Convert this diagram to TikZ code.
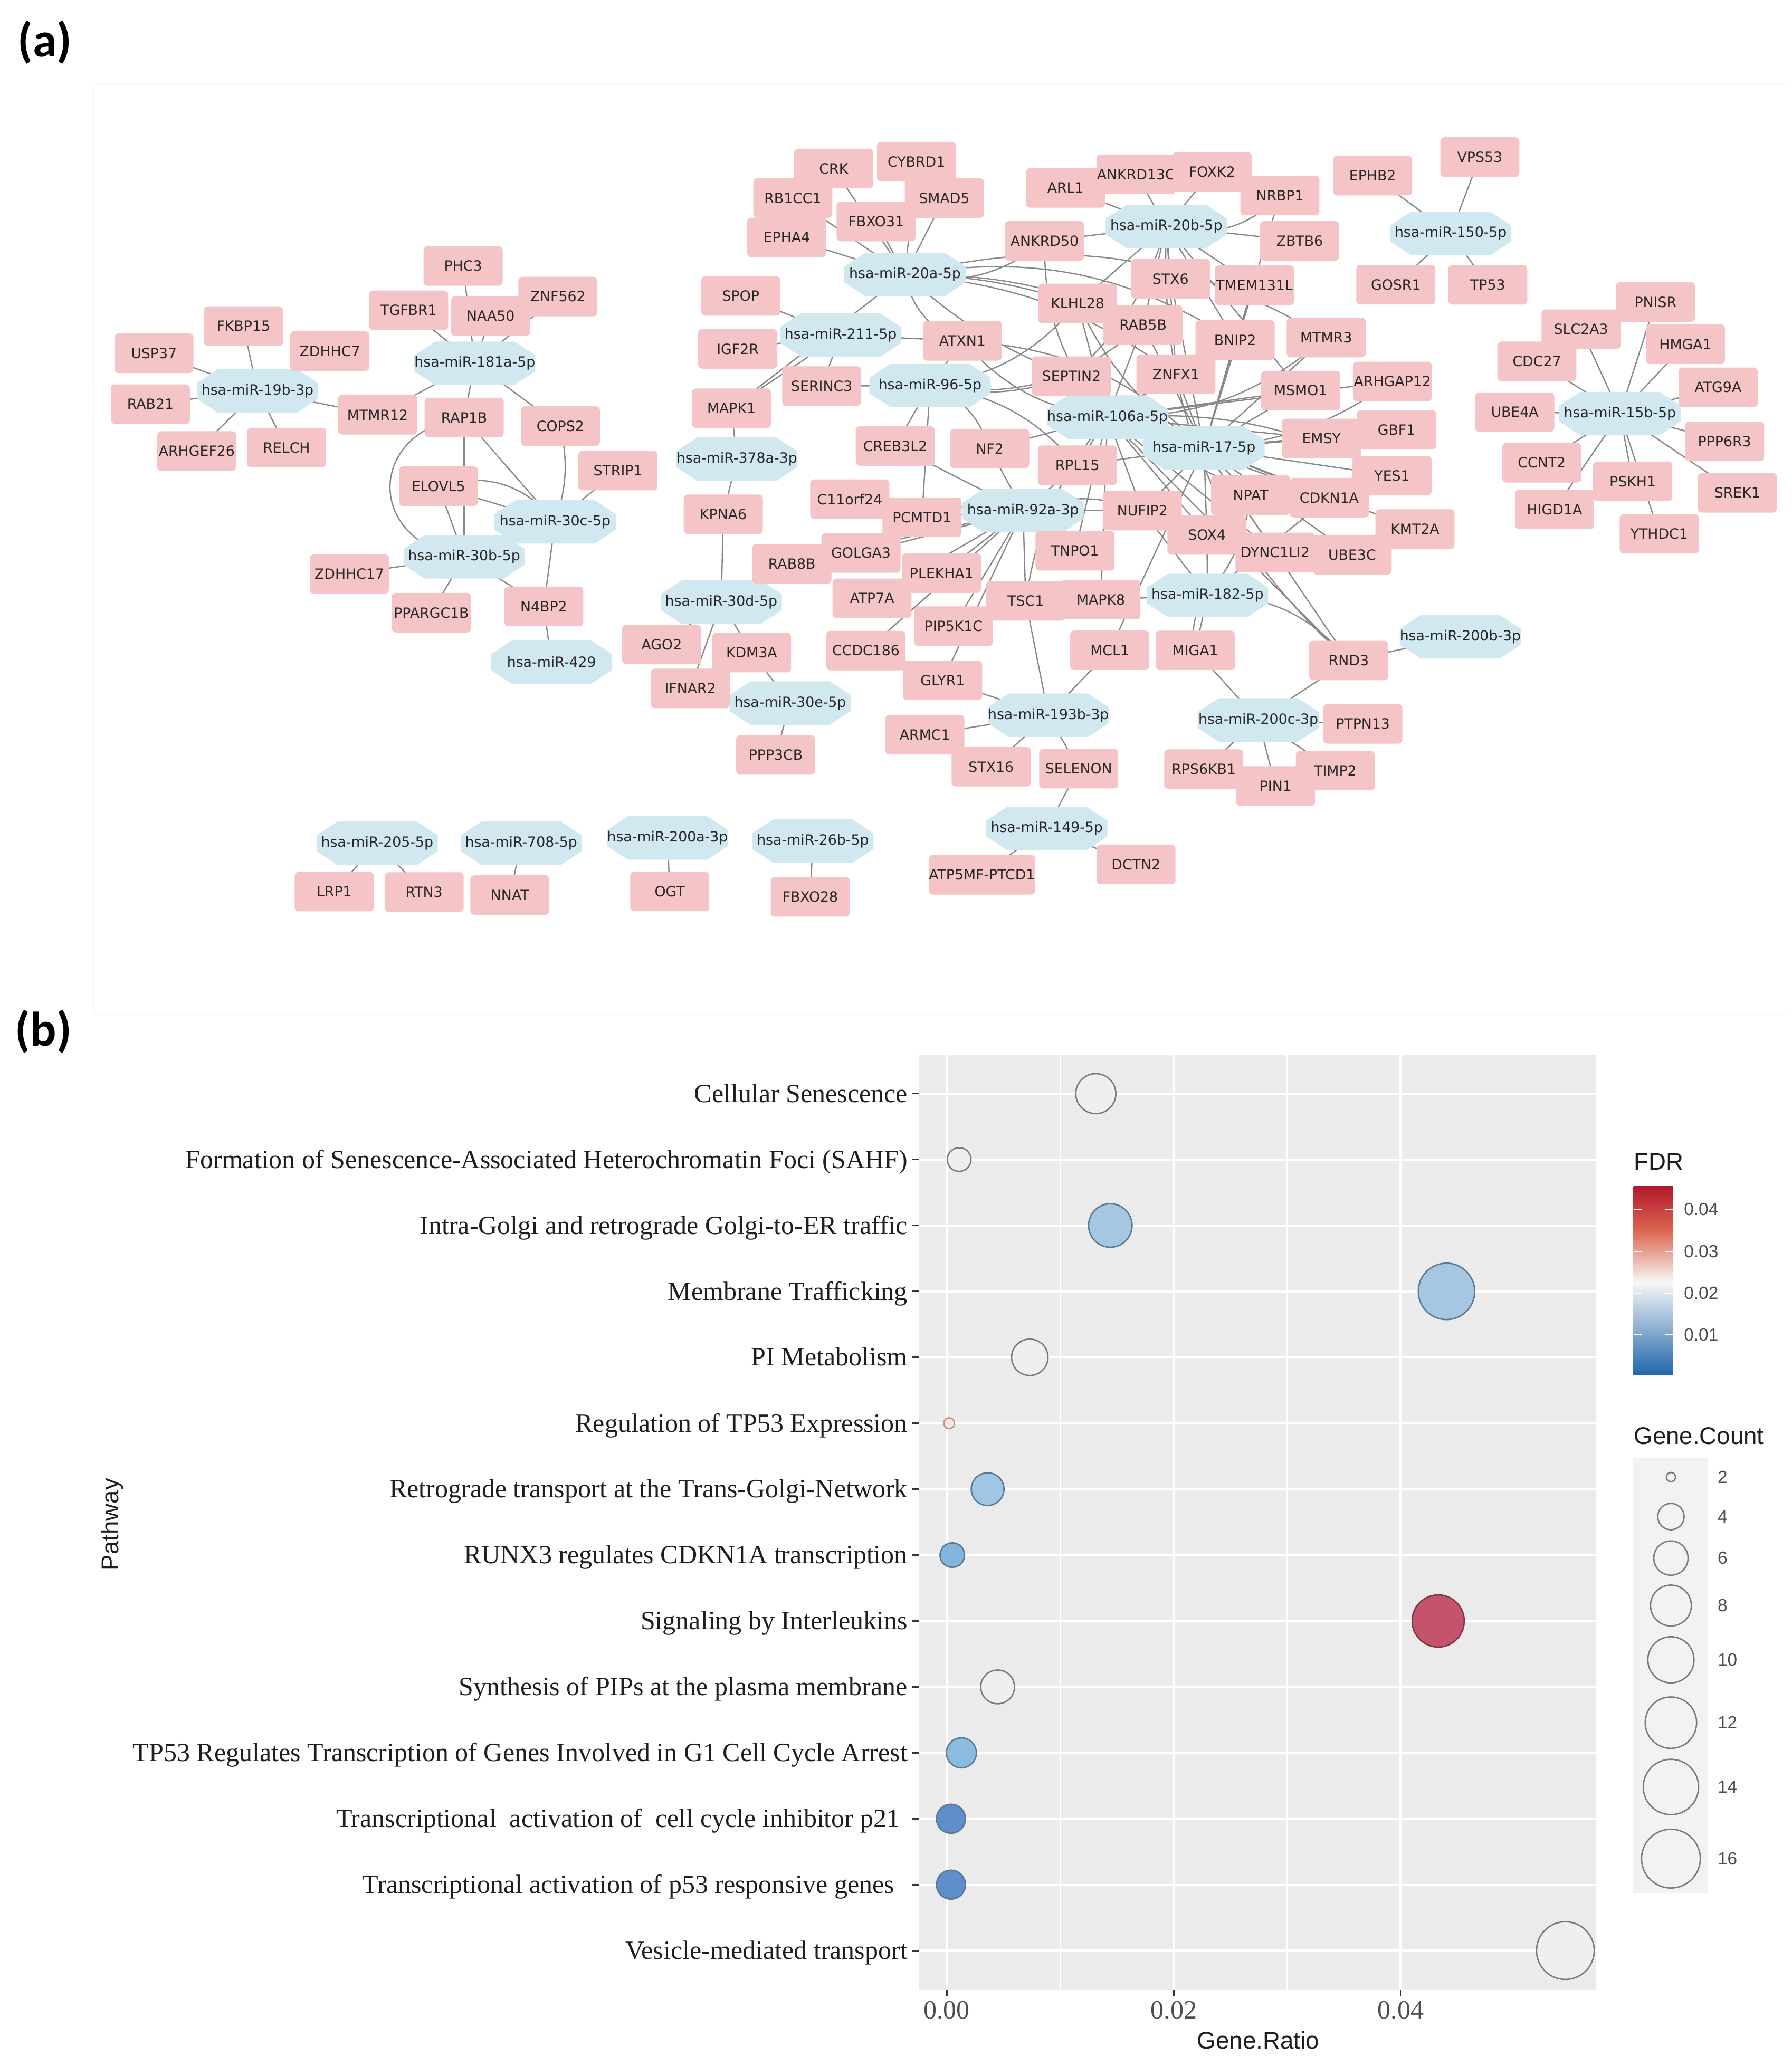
\documentclass[tikz,border=0pt]{standalone}
\usepackage{fontspec}
\setmainfont{Liberation Serif}
\newfontfamily\netfont{DejaVu Sans}
\newfontfamily\arialfont{Liberation Sans}
\newfontfamily\labfont{Carlito}
\pgfdeclarelayer{edges}
\pgfdeclarelayer{oct}
\pgfsetlayers{edges,oct,main}
\definecolor{genepink}{HTML}{F4C4C6}
\definecolor{mirblue}{HTML}{D2E8F0}
\definecolor{edgegray}{HTML}{888888}
\definecolor{txtdark}{HTML}{262626}
\definecolor{panelgray}{HTML}{EBEBEB}
\definecolor{pathtxt}{HTML}{1E1E1E}
\definecolor{ticktxt}{HTML}{4D4D4D}
\definecolor{tickgray}{HTML}{333333}
\definecolor{cwhite}{HTML}{EEEFF0}
\definecolor{clblue}{HTML}{A6C7E1}
\definecolor{clblue2}{HTML}{9FC6E4}
\definecolor{cmblue}{HTML}{82B5DD}
\definecolor{cmblue2}{HTML}{8CBBE0}
\definecolor{cdblue}{HTML}{5F8FCB}
\definecolor{cred}{HTML}{C4536B}
\definecolor{cpeach}{HTML}{F5E9E3}
\definecolor{ogray}{HTML}{7A7A7A}
\definecolor{oblue}{HTML}{5B7893}
\definecolor{ored}{HTML}{7C3A48}
\definecolor{oorange}{HTML}{C99077}
\definecolor{fdrred}{HTML}{B2182B}
\definecolor{fdrorange}{HTML}{DD6A55}
\definecolor{fdrpeach}{HTML}{F4B89D}
\definecolor{fdrwhite}{HTML}{F7F7F7}
\definecolor{fdrmidb}{HTML}{8EBFDD}
\definecolor{fdrblue}{HTML}{2166AC}
\definecolor{keygray}{HTML}{F2F2F2}
\newcommand\mirnode[3]{%
  \node[mirbox] (#1) at (#2) {#3};%
  \begin{pgfonlayer}{oct}%
  \fill[mirblue] ([shift={(-0.92cm,0.12cm)}]#1.center) -- ([shift={(-0.60cm,0.33cm)}]#1.center)
    -- ([shift={(0.60cm,0.33cm)}]#1.center) -- ([shift={(0.92cm,0.12cm)}]#1.center)
    -- ([shift={(0.92cm,-0.12cm)}]#1.center) -- ([shift={(0.60cm,-0.33cm)}]#1.center)
    -- ([shift={(-0.60cm,-0.33cm)}]#1.center) -- ([shift={(-0.92cm,-0.12cm)}]#1.center) -- cycle;%
  \end{pgfonlayer}}
\tikzset{
  genebox/.style={rectangle, rounded corners=0.06cm, fill=genepink, minimum width=1.2cm,
    minimum height=0.6cm, inner sep=0pt, font=\netfont\fontsize{6.1}{7}\selectfont, text=txtdark},
  mirbox/.style={rectangle, minimum width=1.84cm, minimum height=0.66cm, inner sep=0pt,
    font=\netfont\fontsize{6.1}{7}\selectfont, text=txtdark},
  netedge/.style={draw=edgegray, line width=0.55pt},
  pathlab/.style={font=\fontsize{11.4}{13}\selectfont, text=pathtxt, inner sep=0pt, anchor=base east},
  ticklab/.style={font=\fontsize{11.4}{13}\selectfont, text=ticktxt, inner sep=0pt, anchor=base},
  axtitle/.style={font=\arialfont\fontsize{10.4}{12}\selectfont, text=pathtxt, inner sep=0pt},
  legnum/.style={font=\arialfont\fontsize{7.6}{9}\selectfont, text=ticktxt, inner sep=0pt, anchor=west},
  panlab/.style={font=\labfont\bfseries\fontsize{21}{25}\selectfont, inner sep=0pt},
  bubble/.style={line width=0.6pt}
}
\begin{document}
\begin{tikzpicture}[x=0.02cm, y=-0.02cm]
\useasboundingbox (0,0) rectangle (1359.4,1568);
\begin{pgfonlayer}{edges}
\fill[white] (0,0) rectangle (1359.4,1568);
\draw[black!3, line width=0.4pt] (71,64) rectangle (1356,770);
\end{pgfonlayer}

\node[panlab] (laba) at (34,32) {(a)};
\node[panlab] (labb) at (33,783) {(b)};

% ---------------- left cluster
\node[genebox] (phc3) at (351.4,201.9) {PHC3};
\node[genebox] (tgfbr1) at (310.1,235.5) {TGFBR1};
\node[genebox] (znf562) at (423.3,225.1) {ZNF562};
\node[genebox] (naa50) at (372.3,239.9) {NAA50};
\node[genebox] (fkbp15) at (184.7,247.5) {FKBP15};
\node[genebox] (usp37) at (116.8,268.1) {USP37};
\node[genebox] (zdhhc7) at (250.3,266.4) {ZDHHC7};
\node[genebox] (rab21) at (114.1,306.7) {RAB21};
\node[genebox] (mtmr12) at (286.5,314.8) {MTMR12};
\node[genebox] (rap1b) at (352.2,316.9) {RAP1B};
\node[genebox] (cops2) at (425.2,323.4) {COPS2};
\node[genebox] (arhgef26) at (149.3,342.3) {ARHGEF26};
\node[genebox] (relch) at (217.4,339.7) {RELCH};
\node[genebox] (strip1) at (468.9,357.1) {STRIP1};
\node[genebox] (elovl5) at (332.7,369.0) {ELOVL5};
\node[genebox] (zdhhc17) at (265.1,435.7) {ZDHHC17};
\node[genebox] (ppargc1b) at (327.3,465.0) {PPARGC1B};
\node[genebox] (n4bp2) at (412.6,460.2) {N4BP2};
\mirnode{m181a}{360.3,275.7}{hsa-miR-181a-5p}
\mirnode{m19b}{195.4,296.7}{hsa-miR-19b-3p}
\mirnode{m30c}{421.2,396.1}{hsa-miR-30c-5p}
\mirnode{m30b}{352.2,422.6}{hsa-miR-30b-5p}
\mirnode{m429}{418.5,502.5}{hsa-miR-429}

% ---------------- middle cluster
\node[genebox] (crk) at (632.6,127.9) {CRK};
\node[genebox] (cybrd1) at (695.4,122.7) {CYBRD1};
\node[genebox] (rb1cc1) at (601.6,150.3) {RB1CC1};
\node[genebox] (smad5) at (716.5,150.3) {SMAD5};
\node[genebox] (fbxo31) at (664.8,168.1) {FBXO31};
\node[genebox] (epha4) at (597.0,180.2) {EPHA4};
\node[genebox] (spop) at (562.1,224.6) {SPOP};
\node[genebox] (igf2r) at (559.8,264.8) {IGF2R};
\node[genebox] (atxn1) at (730.3,258.7) {ATXN1};
\node[genebox] (serinc3) at (623.5,293.0) {SERINC3};
\node[genebox] (mapk1) at (555.0,309.8) {MAPK1};
\node[genebox] (creb3l2) at (679.3,338.5) {CREB3L2};
\node[genebox] (nf2) at (751.0,340.5) {NF2};
\node[genebox] (c11orf24) at (644.8,378.8) {C11orf24};
\node[genebox] (pcmtd1) at (699.6,392.5) {PCMTD1};
\node[genebox] (kpna6) at (548.8,390.3) {KPNA6};
\node[genebox] (golga3) at (653.3,419.7) {GOLGA3};
\node[genebox] (rab8b) at (600.9,427.9) {RAB8B};
\node[genebox] (plekha1) at (714.5,435.0) {PLEKHA1};
\node[genebox] (atp7a) at (661.7,454.1) {ATP7A};
\node[genebox] (tnpo1) at (815.7,418.0) {TNPO1};
\node[genebox] (tsc1) at (778.3,456.0) {TSC1};
\node[genebox] (mapk8) at (835.3,455.0) {MAPK8};
\node[genebox] (pip5k1c) at (723.5,475.2) {PIP5K1C};
\node[genebox] (ago2) at (502.1,489.2) {AGO2};
\node[genebox] (kdm3a) at (570.3,495.3) {KDM3A};
\node[genebox] (ccdc186) at (657.1,493.8) {CCDC186};
\node[genebox] (mcl1) at (842.1,493.5) {MCL1};
\node[genebox] (glyr1) at (715.3,516.4) {GLYR1};
\node[genebox] (ifnar2) at (523.8,522.5) {IFNAR2};
\node[genebox] (armc1) at (701.8,557.6) {ARMC1};
\node[genebox] (ppp3cb) at (588.6,572.9) {PPP3CB};
\node[genebox] (stx16) at (752.1,581.9) {STX16};
\node[genebox] (selenon) at (818.5,583.4) {SELENON};
\node[genebox] (atp5mf) at (745.1,663.9) {ATP5MF-PTCD1};
\node[genebox] (dctn2) at (862.0,656.0) {DCTN2};
\mirnode{m20a}{686.7,208.3}{hsa-miR-20a-5p}
\mirnode{m211}{637.9,254.3}{hsa-miR-211-5p}
\mirnode{m96}{705.7,292.6}{hsa-miR-96-5p}
\mirnode{m378a}{559.1,348.5}{hsa-miR-378a-3p}
\mirnode{m92a}{776.3,387.6}{hsa-miR-92a-3p}
\mirnode{m30d}{547.3,457.0}{hsa-miR-30d-5p}
\mirnode{m30e}{599.6,533.6}{hsa-miR-30e-5p}
\mirnode{m193b}{795.5,542.8}{hsa-miR-193b-3p}
\mirnode{m149}{794.3,628.8}{hsa-miR-149-5p}

% ---------------- top centre cluster
\node[genebox] (arl1) at (808.5,142.6) {ARL1};
\node[genebox] (ankrd13c) at (862.0,132.3) {ANKRD13C};
\node[genebox] (foxk2) at (919.7,130.4) {FOXK2};
\node[genebox] (nrbp1) at (971.2,148.4) {NRBP1};
\node[genebox] (ankrd50) at (792.6,182.8) {ANKRD50};
\node[genebox] (zbtb6) at (986.2,182.8) {ZBTB6};
\node[genebox] (stx6) at (888.2,211.6) {STX6};
\node[genebox] (tmem131l) at (951.8,216.5) {TMEM131L};
\node[genebox] (klhl28) at (817.7,230.3) {KLHL28};
\node[genebox] (rab5b) at (867.3,246.6) {RAB5B};
\node[genebox] (bnip2) at (937.2,258.1) {BNIP2};
\node[genebox] (mtmr3) at (1006.3,256.2) {MTMR3};
\node[genebox] (septin2) at (813.0,285.5) {SEPTIN2};
\node[genebox] (znfx1) at (892.3,284.0) {ZNFX1};
\node[genebox] (msmo1) at (986.9,296.4) {MSMO1};
\node[genebox] (arhgap12) at (1056.6,289.5) {ARHGAP12};
\node[genebox] (rpl15) at (817.5,353.1) {RPL15};
\node[genebox] (emsy) at (1002.7,332.8) {EMSY};
\node[genebox] (gbf1) at (1059.7,326.2) {GBF1};
\node[genebox] (yes1) at (1056.3,361.0) {YES1};
\node[genebox] (npat) at (949.0,375.8) {NPAT};
\node[genebox] (cdkn1a) at (1008.6,377.7) {CDKN1A};
\node[genebox] (nufip2) at (866.8,387.6) {NUFIP2};
\node[genebox] (sox4) at (915.8,406.0) {SOX4};
\node[genebox] (kmt2a) at (1073.7,401.5) {KMT2A};
\node[genebox] (dync1li2) at (967.5,419.3) {DYNC1LI2};
\node[genebox] (ube3c) at (1026.0,421.0) {UBE3C};
\node[genebox] (miga1) at (907.0,493.6) {MIGA1};
\node[genebox] (rnd3) at (1023.4,501.3) {RND3};
\node[genebox] (ptpn13) at (1034.1,549.4) {PTPN13};
\node[genebox] (rps6kb1) at (913.4,583.7) {RPS6KB1};
\node[genebox] (timp2) at (1013.2,584.9) {TIMP2};
\node[genebox] (pin1) at (967.9,596.5) {PIN1};
\mirnode{m20b}{885.0,171.9}{hsa-miR-20b-5p}
\mirnode{m106a}{840.3,316.6}{hsa-miR-106a-5p}
\mirnode{m17}{913.6,340.0}{hsa-miR-17-5p}
\mirnode{m182}{916.3,451.9}{hsa-miR-182-5p}
\mirnode{m200b}{1108.1,483.3}{hsa-miR-200b-3p}
\mirnode{m200c}{954.8,546.4}{hsa-miR-200c-3p}

% ---------------- right clusters
\node[genebox] (ephb2) at (1041.5,133.3) {EPHB2};
\node[genebox] (vps53) at (1122.9,119.2) {VPS53};
\node[genebox] (gosr1) at (1059.2,216.1) {GOSR1};
\node[genebox] (tp53) at (1128.9,216.2) {TP53};
\node[genebox] (pnisr) at (1256.2,229.2) {PNISR};
\node[genebox] (slc2a3) at (1199.7,249.9) {SLC2A3};
\node[genebox] (hmga1) at (1278.9,261.2) {HMGA1};
\node[genebox] (cdc27) at (1166.2,274.2) {CDC27};
\node[genebox] (atg9a) at (1303.7,293.9) {ATG9A};
\node[genebox] (ube4a) at (1149.4,312.8) {UBE4A};
\node[genebox] (ppp6r3) at (1308.6,335.0) {PPP6R3};
\node[genebox] (ccnt2) at (1169.9,351.2) {CCNT2};
\node[genebox] (pskh1) at (1238.9,365.3) {PSKH1};
\node[genebox] (srek1) at (1318.3,374.0) {SREK1};
\node[genebox] (higd1a) at (1179.6,386.6) {HIGD1A};
\node[genebox] (ythdc1) at (1259.0,405.1) {YTHDC1};
\mirnode{m150}{1100.8,177.2}{hsa-miR-150-5p}
\mirnode{m15b}{1229.2,313.9}{hsa-miR-15b-5p}

% ---------------- bottom row
\node[genebox] (lrp1) at (253.6,676.7) {LRP1};
\node[genebox] (rtn3) at (321.8,677.0) {RTN3};
\node[genebox] (nnat) at (386.9,679.3) {NNAT};
\node[genebox] (ogt) at (508.2,676.6) {OGT};
\node[genebox] (fbxo28) at (614.8,680.7) {FBXO28};
\mirnode{m205}{286.2,640.0}{hsa-miR-205-5p}
\mirnode{m708}{395.5,640.0}{hsa-miR-708-5p}
\mirnode{m200a}{506.5,636.0}{hsa-miR-200a-3p}
\mirnode{m26b}{616.8,638.4}{hsa-miR-26b-5p}

% ---------------- edges
\begin{pgfonlayer}{edges}
\foreach \a/\b in {m19b/usp37, m19b/fkbp15, m19b/rab21, m19b/arhgef26, m19b/relch, m19b/mtmr12, m19b/zdhhc7,
  m181a/phc3, m181a/tgfbr1, m181a/naa50, m181a/znf562, m181a/mtmr12, m181a/rap1b, m181a/cops2,
  m30c/elovl5, m30c/rap1b, m30c/strip1, m30c/n4bp2,
  m30b/rap1b, m30b/elovl5, m30b/zdhhc17, m30b/ppargc1b, m30b/n4bp2, m429/n4bp2,
  m20a/crk, m20a/rb1cc1, m20a/cybrd1, m20a/smad5, m20a/fbxo31, m20a/epha4, m20a/mapk1,
  m211/spop, m211/igf2r, m211/serinc3, m211/atxn1, m211/mapk1,
  m96/atxn1, m96/serinc3, m96/creb3l2, m96/pcmtd1,
  m378a/mapk1, m378a/kpna6,
  m92a/creb3l2, m92a/c11orf24, m92a/pcmtd1, m92a/nf2, m92a/rpl15, m92a/nufip2, m92a/golga3, m92a/rab8b,
  m92a/plekha1, m92a/atp7a, m92a/ccdc186, m92a/pip5k1c, m92a/glyr1, m92a/tsc1, m92a/tnpo1,
  m30d/kpna6, m30d/ago2, m30d/kdm3a, m30d/ifnar2, m30e/kdm3a, m30e/ppp3cb,
  m193b/glyr1, m193b/tsc1, m193b/mcl1, m193b/armc1, m193b/stx16, m193b/selenon,
  m149/selenon, m149/atp5mf, m149/dctn2,
  m20b/arl1, m20b/ankrd13c, m20b/foxk2, m20b/ankrd50, m20b/zbtb6, m20b/stx6, m20b/tmem131l,
  m20b/klhl28, m20b/rab5b, m20b/znfx1, m20b/bnip2, m20b/msmo1,
  m17/znfx1, m17/bnip2, m17/mtmr3, m17/msmo1, m17/emsy, m17/yes1, m17/cdkn1a, m17/npat, m17/sox4,
  m17/dync1li2, m17/ube3c, m17/kmt2a, m17/nufip2, m17/rpl15, m17/septin2, m17/rab5b, m17/stx6,
  m17/tmem131l, m17/rnd3, m17/mcl1, m17/nrbp1, m17/gbf1,
  m106a/septin2, m106a/znfx1, m106a/rab5b, m106a/klhl28, m106a/rpl15, m106a/nf2, m106a/nufip2,
  m106a/tnpo1, m106a/mapk8, m106a/emsy, m106a/msmo1, m106a/cdkn1a, m106a/npat, m106a/sox4,
  m106a/dync1li2, m106a/rnd3, m106a/bnip2, m106a/arhgap12,
  m182/nufip2, m182/sox4, m182/miga1, m182/mapk8, m182/cdkn1a,
  m200b/rnd3, m200c/miga1, m200c/rnd3, m200c/ptpn13, m200c/rps6kb1, m200c/pin1, m200c/timp2,
  m150/ephb2, m150/vps53, m150/gosr1, m150/tp53,
  m15b/pnisr, m15b/slc2a3, m15b/hmga1, m15b/cdc27, m15b/atg9a, m15b/ube4a, m15b/ppp6r3,
  m15b/ccnt2, m15b/higd1a, m15b/pskh1, m15b/ythdc1, m15b/srek1,
  m205/lrp1, m205/rtn3, m708/nnat, m200a/ogt, m26b/fbxo28}
  \draw[netedge] (\a.center) -- (\b.center);
\foreach \a/\b/\c in {m30c/cops2/-15, m30c/elovl5/-35, m20a/klhl28/8, m20a/rab5b/12, m20a/septin2/-10,
  m20a/znfx1/15, m20a/bnip2/20, m20a/ankrd50/-25, m20a/mtmr3/22, m20a/atxn1/-30,
  m96/nf2/25, m96/septin2/-15, m96/klhl28/-20, m96/rpl15/20, m96/rab5b/-25,
  m92a/nufip2/20, m20b/nrbp1/-30, m20b/rnd3/-25, m20b/septin2/15,
  m17/klhl28/15, m17/atxn1/-20, m106a/atxn1/20, m106a/mtmr3/-20, m106a/ankrd50/20,
  m106a/yes1/15, m106a/tsc1/-15, m182/rnd3/25, m182/miga1/-25, m182/npat/-15, m17/arhgap12/-15}
  \draw[netedge] (\a.center) to[bend left=\c] (\b.center);
\draw[netedge] (rap1b.center) .. controls +(-75,10) and +(-75,-10) .. (m30b.center);
\end{pgfonlayer}

% ---------------- panel (b): bubble plot
\fill[panelgray] (697.7,800.8) rectangle (1211.4,1510);
\foreach \v in {0.01,0.03,0.05}
  \draw[white, line width=0.35pt] ({718.4+\v*8610},800.8) -- ({718.4+\v*8610},1510);
\foreach \v in {0,0.02,0.04}
  \draw[white, line width=0.8pt] ({718.4+\v*8610},800.8) -- ({718.4+\v*8610},1510);
\foreach \k in {0,...,13}
  \draw[white, line width=0.8pt] (697.7,{830+50.03*\k}) -- (1211.4,{830+50.03*\k});
\foreach \k in {0,...,13}
  \draw[tickgray, line width=0.6pt] (692.4,{830+50.03*\k}) -- (697.7,{830+50.03*\k});
\foreach \v in {0,0.02,0.04}
  \draw[tickgray, line width=0.6pt] ({718.4+\v*8610},1510) -- ({718.4+\v*8610},1515.3);

\filldraw[bubble, fill=cwhite, draw=ogray] (831.5,830.00) circle[radius=0.304cm];
\filldraw[bubble, fill=cwhite, draw=ogray] (727.8,880.03) circle[radius=0.180cm];
\filldraw[bubble, fill=clblue, draw=oblue] (842.5,930.06) circle[radius=0.330cm];
\filldraw[bubble, fill=clblue, draw=oblue] (1097.6,980.09) circle[radius=0.428cm];
\filldraw[bubble, fill=cwhite, draw=ogray] (781.4,1030.12) circle[radius=0.276cm];
\filldraw[bubble, fill=cpeach, draw=oorange] (720.2,1080.15) circle[radius=0.082cm];
\filldraw[bubble, fill=clblue2, draw=oblue] (749.4,1130.18) circle[radius=0.248cm];
\filldraw[bubble, fill=cmblue, draw=oblue] (722.6,1180.21) circle[radius=0.186cm];
\filldraw[bubble, fill=cred, draw=ored] (1091.3,1230.24) circle[radius=0.396cm];
\filldraw[bubble, fill=cwhite, draw=ogray] (757.0,1280.27) circle[radius=0.256cm];
\filldraw[bubble, fill=cmblue2, draw=oblue] (729.5,1330.30) circle[radius=0.228cm];
\filldraw[bubble, fill=cdblue, draw=oblue] (721.6,1380.33) circle[radius=0.220cm];
\filldraw[bubble, fill=cdblue, draw=oblue] (721.6,1430.36) circle[radius=0.220cm];
\filldraw[bubble, fill=cwhite, draw=ogray] (1187.8,1480.39) circle[radius=0.438cm];

\node[pathlab] (p1) at (689,836.5) {Cellular Senescence};
\node[pathlab] (p2) at (689,886.5) {Formation of Senescence-Associated Heterochromatin Foci (SAHF)};
\node[pathlab] (p3) at (689,936.6) {Intra-Golgi and retrograde Golgi-to-ER traffic};
\node[pathlab] (p4) at (689,986.6) {Membrane Trafficking};
\node[pathlab] (p5) at (689,1036.6) {PI Metabolism};
\node[pathlab] (p6) at (689,1086.7) {Regulation of TP53 Expression};
\node[pathlab] (p7) at (689,1136.7) {Retrograde transport at the Trans-Golgi-Network};
\node[pathlab] (p8) at (689,1186.7) {RUNX3 regulates CDKN1A transcription};
\node[pathlab] (p9) at (689,1236.7) {Signaling by Interleukins};
\node[pathlab] (p10) at (689,1286.8) {Synthesis of PIPs at the plasma membrane};
\node[pathlab] (p11) at (689,1336.8) {TP53 Regulates Transcription of Genes Involved in G1 Cell Cycle Arrest};
\node[pathlab] (p12) at (683,1386.8) {Transcriptional\ \ activation of\ \ cell cycle inhibitor p21};
\node[pathlab] (p13) at (679,1436.9) {Transcriptional activation of p53 responsive genes};
\node[pathlab] (p14) at (689,1486.9) {Vesicle-mediated transport};

\node[ticklab] (t0) at (718.4,1532) {0.00};
\node[ticklab] (t2) at (890.6,1532) {0.02};
\node[ticklab] (t4) at (1062.8,1532) {0.04};
\node[axtitle] (xt) at (954.7,1548.6) {Gene.Ratio};
\node[axtitle, rotate=90] (yt) at (85,1157) {Pathway};

% legend FDR
\node[axtitle, anchor=base west] (fdrt) at (1239.5,888) {FDR};
\shade[top color=fdrred, bottom color=fdrorange] (1239.5,900.3) rectangle (1269.3,935.5);
\shade[top color=fdrorange, middle color=fdrpeach, bottom color=fdrwhite] (1239.5,935) rectangle (1269.3,973.3);
\shade[top color=fdrwhite, middle color=fdrmidb, bottom color=fdrblue] (1239.5,973) rectangle (1269.3,1043.6);
\foreach \yy/\lab in {917.9/0.04, 949.6/0.03, 981.3/0.02, 1012.9/0.01}{
  \draw[white, line width=0.5pt] (1239.5,\yy) -- (1245.5,\yy);
  \draw[white, line width=0.5pt] (1263.3,\yy) -- (1269.3,\yy);
  \node[legnum] at (1277.5,\yy) {\lab};
}
% legend Gene.Count
\node[axtitle, anchor=base west] (gct) at (1239.5,1096) {Gene.Count};
\fill[keygray] (1238.9,1106.7) rectangle (1295.8,1436.9);
\foreach \yy/\rr/\lab in {1121/0.07/2, 1151/0.20/4, 1182.5/0.26/6, 1218.5/0.31/8, 1259.7/0.35/10,
  1307.4/0.39/12, 1356.2/0.42/14, 1410.6/0.446/16}{
  \draw[ogray, line width=0.6pt] (1267.9,\yy) circle[radius=\rr cm];
  \node[legnum] at (1303,\yy) {\lab};
}
\end{tikzpicture}
\end{document}
